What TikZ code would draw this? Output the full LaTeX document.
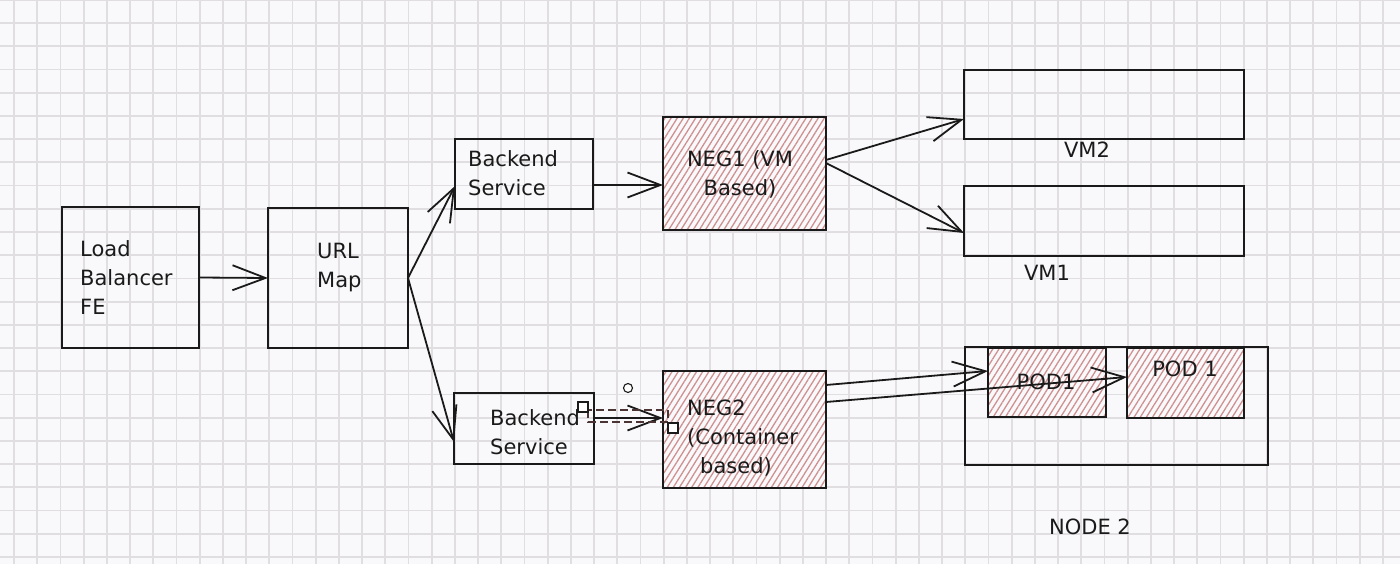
\documentclass[tikz,border=0pt]{standalone}
\usepackage{fontspec}
\setmainfont{DejaVu Sans}
\usetikzlibrary{arrows.meta,patterns.meta}
\definecolor{bg}{HTML}{F9F9FB}
\definecolor{gridc}{HTML}{E0DEE0}
\definecolor{ink}{HTML}{1A1A1A}
\definecolor{hatch}{HTML}{CF9090}
\definecolor{sel}{HTML}{4A3434}
\begin{document}
\begin{tikzpicture}[x=1pt,y=-1pt,
  box/.style={draw=ink,line width=2pt,rectangle,inner sep=0pt,outer sep=0pt},
  hatched/.style={box,preaction={fill=bg},pattern={Lines[angle=58,distance=5.2pt,line width=1.3pt]},pattern color=hatch},
  lbl/.style={font=\fontsize{21}{29}\selectfont,text=ink,inner sep=0pt,align=left},
  arr/.style={draw=ink,line width=1.8pt,line cap=round,line join=round,-{Straight Barb[length=33pt,width=25pt]}}
]
\fill[bg] (0,0) rectangle (1400,564);
\useasboundingbox (0,0) rectangle (1400,564);
\foreach \i in {0,...,59} \draw[gridc,line width=1.8pt] ({14+23.2*\i},0) -- ({14+23.2*\i},564);
\foreach \j in {0,...,24} \draw[gridc,line width=1.8pt] (0,{23.2*\j}) -- (1400,{23.2*\j});

% boxes
\node[box,minimum width=137pt,minimum height=141pt] (lb) at (130.5,277.5) {};
\node[box,minimum width=140pt,minimum height=140pt] (url) at (338,278) {};
\node[box,minimum width=138pt,minimum height=70pt] (bt) at (524,174) {};
\node[box,minimum width=140pt,minimum height=71pt] (bb) at (524,428.5) {};
\node[hatched,minimum width=163pt,minimum height=113pt] (neg1) at (744.5,173.5) {};
\node[hatched,minimum width=163pt,minimum height=117pt] (neg2) at (744.5,429.5) {};
\node[box,minimum width=280pt,minimum height=69pt] (vm2) at (1104,104.5) {};
\node[box,minimum width=280pt,minimum height=70pt] (vm1) at (1104,221) {};
\node[box,minimum width=303pt,minimum height=118pt] (node2) at (1116.5,406) {};
\node[hatched,minimum width=118pt,minimum height=69pt] (pod1) at (1047,382.5) {};
\node[hatched,minimum width=117pt,minimum height=70pt] (podb) at (1185.5,383) {};

% labels
\node[lbl,anchor=west] (tlb) at (80,278) {Load\\Balancer\\FE};
\node[lbl,anchor=west] (turl) at (317,268) {URL\\Map};
\node[lbl,anchor=west] (tbt) at (468,173) {Backend\\Service};
\node[lbl,anchor=west] (tbb) at (490,432.5) {Backend\\Service};
\node[lbl,align=center] (tneg1) at (740,174.5) {NEG1 (VM\\Based)};
\node[lbl,anchor=west] (tneg2) at (687,438.5) {NEG2\\(Container\\\hspace*{13pt}based)};
\node[lbl] (tpod1) at (1046,382) {POD1};
\node[lbl] (tpodb) at (1185,369) {POD 1};
\node[lbl] (tvm2) at (1087,150) {VM2};
\node[lbl] (tvm1) at (1047,273) {VM1};
\node[lbl] (tnode2) at (1090,527) {NODE 2};

% arrows
\draw[arr] (lb.east) -- (url.west);
\draw[arr] (url.east) -- ([yshift=-12pt]bt.west);
\draw[arr] (url.east) -- ([yshift=-13.5pt]bb.west);
\draw[arr] ([yshift=-11pt]bt.east) -- ([yshift=-11.5pt]neg1.west);
\draw[arr] ([yshift=10.5pt]bb.east) -- ([yshift=11.5pt]neg2.west);
\draw[arr] ([yshift=13.5pt]neg1.east) -- ([yshift=-14.5pt]vm2.west);
\draw[arr] ([yshift=10.5pt]neg1.east) -- ([yshift=-12pt]vm1.west);
\draw[arr] ([yshift=44.5pt]neg2.east) -- ([yshift=11.5pt]pod1.west);
\draw[arr] ([yshift=27.5pt]neg2.east) -- ([yshift=6pt]podb.west);

% selection handles of the selected arrow
\draw[sel,line width=1.3pt,dash pattern=on 8pt off 4pt] (588,410) rectangle (668,422);
\draw[ink,fill=white,line width=1.1pt] (578,402) rectangle (588,412);
\draw[ink,fill=white,line width=1.1pt] (668,423) rectangle (678,433);
\draw[ink,fill=white,line width=1.1pt] (628,388) circle (4.5);
\end{tikzpicture}
\end{document}
